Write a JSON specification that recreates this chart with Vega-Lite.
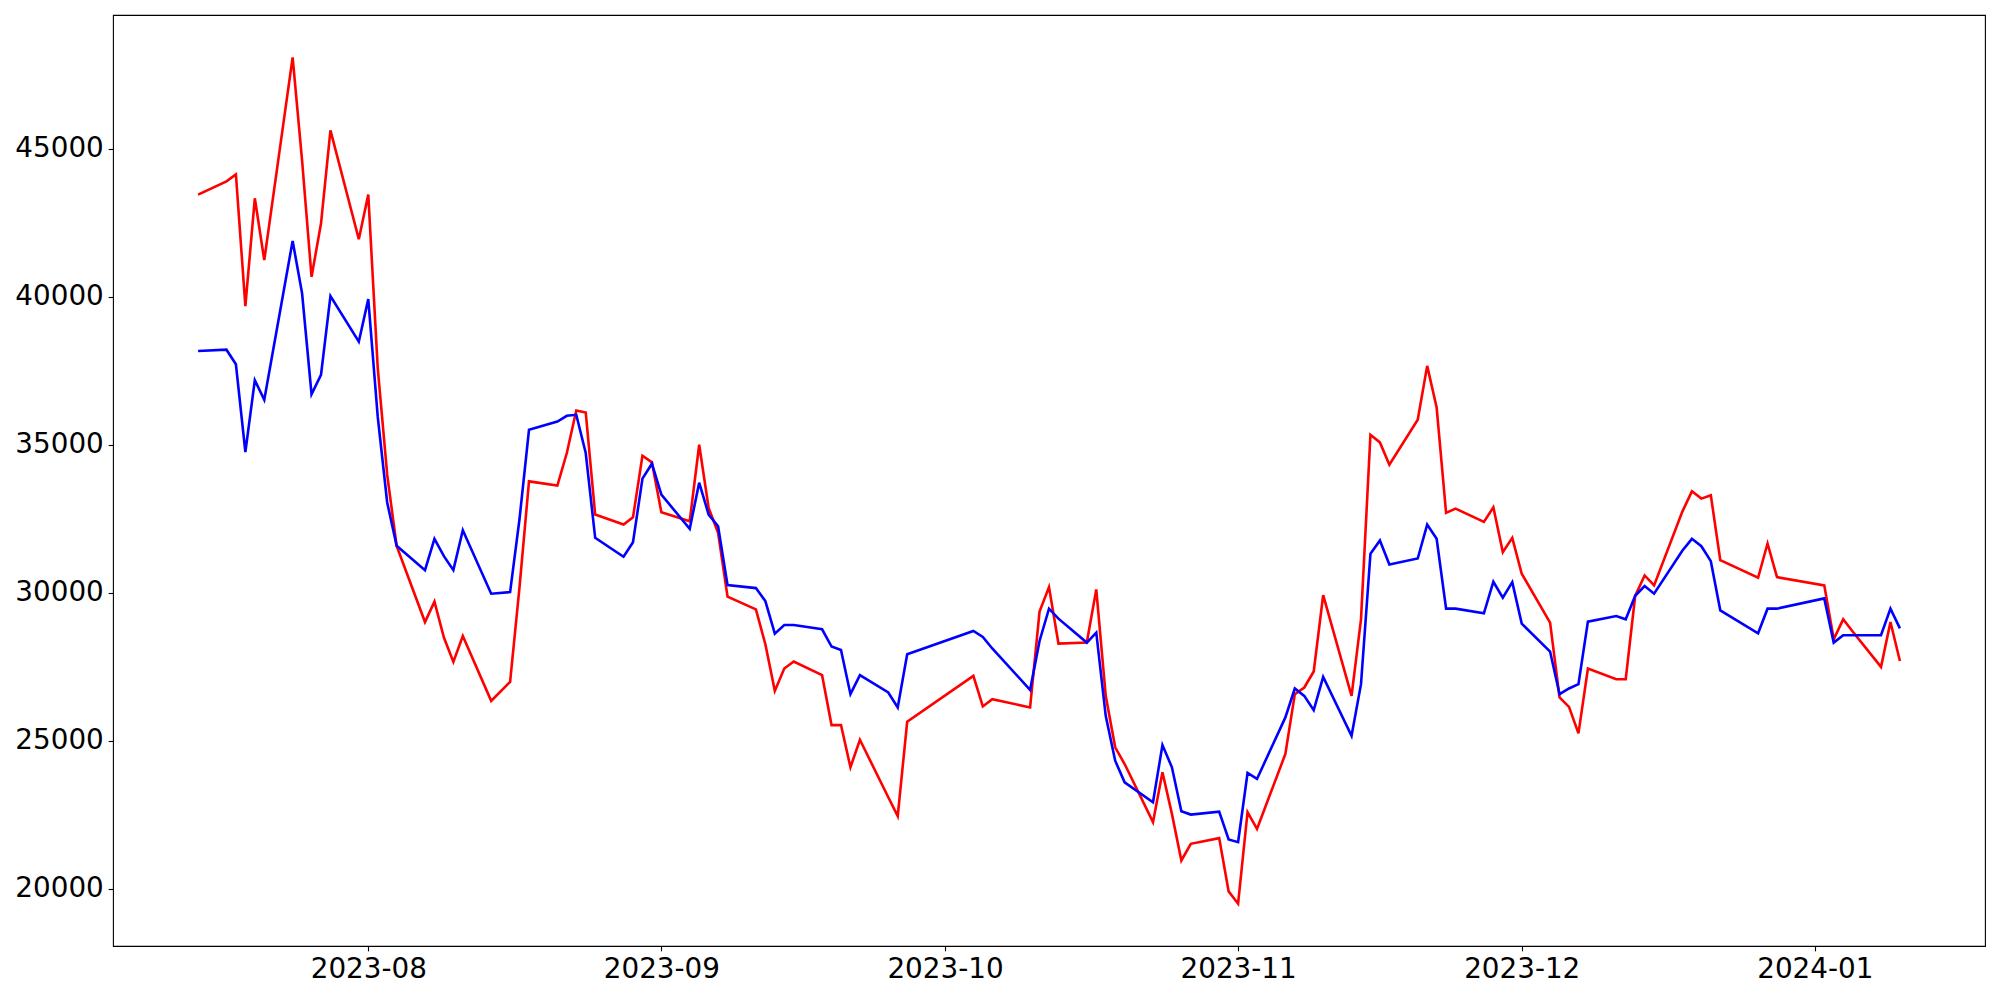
{
  "$schema": "https://vega.github.io/schema/vega-lite/v6.json",
  "width": 1872,
  "height": 931,
  "autosize": {"type": "none"},
  "padding": {"left": 113, "top": 15, "right": 15, "bottom": 54},
  "background": "white",
  "config": {
    "view": {"stroke": "black", "strokeWidth": 1.1},
    "axis": {
      "grid": false,
      "domain": false,
      "ticks": true,
      "tickColor": "black",
      "tickWidth": 1.1,
      "tickSize": 4.86,
      "labelFont": "DejaVu Sans",
      "labelFontSize": 27.8,
      "labelColor": "black",
      "labelPadding": 4.86,
      "title": null
    }
  },
  "data": {
    "values": [
      {"date": "2023-07-14", "red": 43450, "blue": 38168},
      {"date": "2023-07-17", "red": 43898, "blue": 38212},
      {"date": "2023-07-18", "red": 44134, "blue": 37720},
      {"date": "2023-07-19", "red": 39684, "blue": 34754},
      {"date": "2023-07-20", "red": 43325, "blue": 37180},
      {"date": "2023-07-21", "red": 41235, "blue": 36517},
      {"date": "2023-07-24", "red": 48087, "blue": 41886},
      {"date": "2023-07-25", "red": 44600, "blue": 40113},
      {"date": "2023-07-26", "red": 40673, "blue": 36708},
      {"date": "2023-07-27", "red": 42472, "blue": 37359},
      {"date": "2023-07-28", "red": 45617, "blue": 40022},
      {"date": "2023-07-31", "red": 41943, "blue": 38482},
      {"date": "2023-08-01", "red": 43450, "blue": 39920},
      {"date": "2023-08-02", "red": 37600, "blue": 35950},
      {"date": "2023-08-03", "red": 33990, "blue": 33050},
      {"date": "2023-08-04", "red": 31580, "blue": 31590},
      {"date": "2023-08-07", "red": 29013, "blue": 30765},
      {"date": "2023-08-08", "red": 29700, "blue": 31823},
      {"date": "2023-08-09", "red": 28487, "blue": 31237},
      {"date": "2023-08-10", "red": 27665, "blue": 30765},
      {"date": "2023-08-11", "red": 28541, "blue": 32113},
      {"date": "2023-08-14", "red": 26350, "blue": 29970},
      {"date": "2023-08-16", "red": 26991, "blue": 30024},
      {"date": "2023-08-17", "red": 30200, "blue": 32500},
      {"date": "2023-08-18", "red": 33764, "blue": 35507},
      {"date": "2023-08-21", "red": 33620, "blue": 35786},
      {"date": "2023-08-22", "red": 34721, "blue": 35979},
      {"date": "2023-08-23", "red": 36157, "blue": 36012},
      {"date": "2023-08-24", "red": 36090, "blue": 34721},
      {"date": "2023-08-25", "red": 32642, "blue": 31857},
      {"date": "2023-08-28", "red": 32305, "blue": 31217},
      {"date": "2023-08-29", "red": 32551, "blue": 31709},
      {"date": "2023-08-30", "red": 34631, "blue": 33855},
      {"date": "2023-08-31", "red": 34405, "blue": 34361},
      {"date": "2023-09-01", "red": 32720, "blue": 33316},
      {"date": "2023-09-04", "red": 32416, "blue": 32160},
      {"date": "2023-09-05", "red": 35000, "blue": 33720},
      {"date": "2023-09-06", "red": 32868, "blue": 32642},
      {"date": "2023-09-07", "red": 32025, "blue": 32248},
      {"date": "2023-09-08", "red": 29869, "blue": 30260},
      {"date": "2023-09-11", "red": 29441, "blue": 30159},
      {"date": "2023-09-12", "red": 28261, "blue": 29720},
      {"date": "2023-09-13", "red": 26687, "blue": 28622},
      {"date": "2023-09-14", "red": 27442, "blue": 28912},
      {"date": "2023-09-15", "red": 27678, "blue": 28912},
      {"date": "2023-09-18", "red": 27217, "blue": 28767},
      {"date": "2023-09-19", "red": 25532, "blue": 28184},
      {"date": "2023-09-20", "red": 25532, "blue": 28069},
      {"date": "2023-09-21", "red": 24106, "blue": 26576},
      {"date": "2023-09-22", "red": 25036, "blue": 27217},
      {"date": "2023-09-25", "red": 23095, "blue": 26633},
      {"date": "2023-09-26", "red": 22455, "blue": 26128},
      {"date": "2023-09-27", "red": 25643, "blue": 27924},
      {"date": "2023-10-04", "red": 27193, "blue": 28709},
      {"date": "2023-10-05", "red": 26162, "blue": 28507},
      {"date": "2023-10-06", "red": 26408, "blue": 28120},
      {"date": "2023-10-10", "red": 26128, "blue": 26721},
      {"date": "2023-10-11", "red": 29363, "blue": 28372},
      {"date": "2023-10-12", "red": 30192, "blue": 29464},
      {"date": "2023-10-13", "red": 28285, "blue": 29127},
      {"date": "2023-10-16", "red": 28318, "blue": 28318},
      {"date": "2023-10-17", "red": 30115, "blue": 28655},
      {"date": "2023-10-18", "red": 26519, "blue": 25845},
      {"date": "2023-10-19", "red": 24780, "blue": 24328},
      {"date": "2023-10-20", "red": 24217, "blue": 23600},
      {"date": "2023-10-23", "red": 22252, "blue": 22926},
      {"date": "2023-10-24", "red": 23937, "blue": 24858},
      {"date": "2023-10-25", "red": 22532, "blue": 24106},
      {"date": "2023-10-26", "red": 20958, "blue": 22623},
      {"date": "2023-10-27", "red": 21521, "blue": 22509},
      {"date": "2023-10-30", "red": 21713, "blue": 22610},
      {"date": "2023-10-31", "red": 19914, "blue": 21666},
      {"date": "2023-11-01", "red": 19499, "blue": 21578},
      {"date": "2023-11-02", "red": 22589, "blue": 23914},
      {"date": "2023-11-03", "red": 22027, "blue": 23712},
      {"date": "2023-11-06", "red": 24554, "blue": 25791},
      {"date": "2023-11-07", "red": 26576, "blue": 26768},
      {"date": "2023-11-08", "red": 26802, "blue": 26519},
      {"date": "2023-11-09", "red": 27341, "blue": 26037},
      {"date": "2023-11-10", "red": 29923, "blue": 27159},
      {"date": "2023-11-13", "red": 26519, "blue": 25171},
      {"date": "2023-11-14", "red": 29104, "blue": 26913},
      {"date": "2023-11-15", "red": 35338, "blue": 31318},
      {"date": "2023-11-16", "red": 35079, "blue": 31766},
      {"date": "2023-11-17", "red": 34327, "blue": 30957},
      {"date": "2023-11-20", "red": 35844, "blue": 31159},
      {"date": "2023-11-21", "red": 37664, "blue": 32305},
      {"date": "2023-11-22", "red": 36258, "blue": 31823},
      {"date": "2023-11-23", "red": 32700, "blue": 29464},
      {"date": "2023-11-24", "red": 32844, "blue": 29464},
      {"date": "2023-11-27", "red": 32396, "blue": 29306},
      {"date": "2023-11-28", "red": 32888, "blue": 30374},
      {"date": "2023-11-29", "red": 31372, "blue": 29835},
      {"date": "2023-11-30", "red": 31857, "blue": 30361},
      {"date": "2023-12-01", "red": 30644, "blue": 28959},
      {"date": "2023-12-04", "red": 28992, "blue": 28015},
      {"date": "2023-12-05", "red": 26465, "blue": 26576},
      {"date": "2023-12-06", "red": 26148, "blue": 26768},
      {"date": "2023-12-07", "red": 25252, "blue": 26913},
      {"date": "2023-12-08", "red": 27442, "blue": 29026},
      {"date": "2023-12-11", "red": 27082, "blue": 29215},
      {"date": "2023-12-12", "red": 27082, "blue": 29104},
      {"date": "2023-12-13", "red": 29900, "blue": 29900},
      {"date": "2023-12-14", "red": 30587, "blue": 30226},
      {"date": "2023-12-15", "red": 30250, "blue": 29970},
      {"date": "2023-12-18", "red": 32750, "blue": 31430},
      {"date": "2023-12-19", "red": 33427, "blue": 31823},
      {"date": "2023-12-20", "red": 33181, "blue": 31574},
      {"date": "2023-12-21", "red": 33293, "blue": 31069},
      {"date": "2023-12-22", "red": 31102, "blue": 29407},
      {"date": "2023-12-26", "red": 30509, "blue": 28632},
      {"date": "2023-12-27", "red": 31665, "blue": 29464},
      {"date": "2023-12-28", "red": 30529, "blue": 29464},
      {"date": "2024-01-02", "red": 30250, "blue": 29811},
      {"date": "2024-01-03", "red": 28430, "blue": 28318},
      {"date": "2024-01-04", "red": 29104, "blue": 28565},
      {"date": "2024-01-05", "red": 28690, "blue": 28565},
      {"date": "2024-01-08", "red": 27496, "blue": 28565},
      {"date": "2024-01-09", "red": 29013, "blue": 29464},
      {"date": "2024-01-10", "red": 27698, "blue": 28800}
    ]
  },
  "encoding": {
    "x": {
      "field": "date",
      "type": "temporal",
      "scale": {
        "type": "utc",
        "domain": [
          {"year": 2023, "month": 7, "date": 5, "utc": true},
          {"year": 2024, "month": 1, "date": 19, "utc": true}
        ]
      },
      "axis": {
        "labelExpr": "utcFormat(datum.value, '%Y-%m')",
        "values": [
          {"year": 2023, "month": 8, "date": 1, "utc": true},
          {"year": 2023, "month": 9, "date": 1, "utc": true},
          {"year": 2023, "month": 10, "date": 1, "utc": true},
          {"year": 2023, "month": 11, "date": 1, "utc": true},
          {"year": 2023, "month": 12, "date": 1, "utc": true},
          {"year": 2024, "month": 1, "date": 1, "utc": true}
        ],
        "labelAlign": "center",
        "labelBaseline": "top"
      }
    }
  },
  "layer": [
    {
      "mark": {"type": "line", "color": "#ff0000", "strokeWidth": 2.6, "clip": true},
      "encoding": {
        "y": {
          "field": "red",
          "type": "quantitative",
          "scale": {"domain": [18070, 49516], "nice": false, "zero": false},
          "axis": {"values": [20000, 25000, 30000, 35000, 40000, 45000], "format": "d"}
        }
      }
    },
    {
      "mark": {"type": "line", "color": "#0000ff", "strokeWidth": 2.6, "clip": true},
      "encoding": {
        "y": {"field": "blue", "type": "quantitative"}
      }
    }
  ],
  "resolve": {"scale": {"y": "shared"}, "axis": {"y": "shared"}}
}
